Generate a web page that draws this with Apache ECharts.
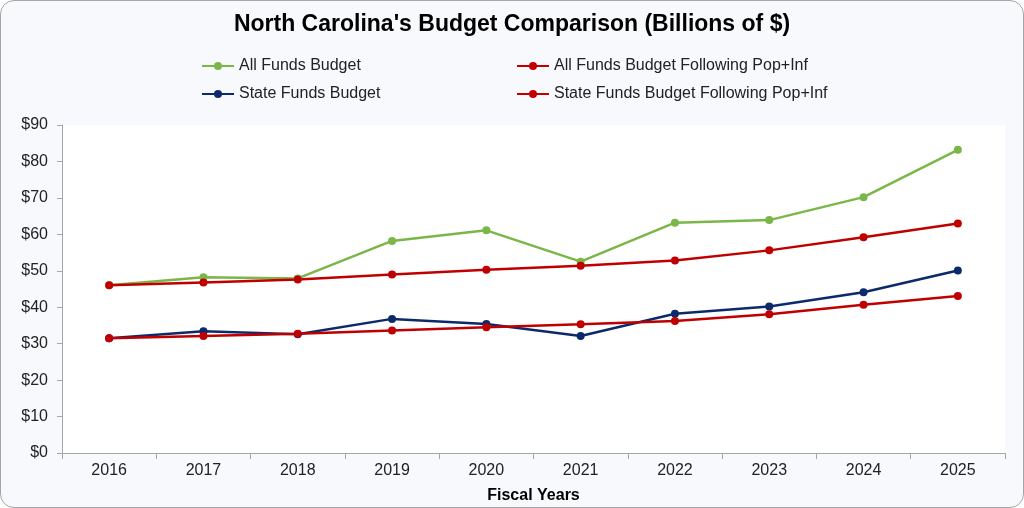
<!DOCTYPE html>
<html>
<head>
<meta charset="utf-8">
<script src="https://cdn.jsdelivr.net/npm/echarts@6/dist/echarts.min.js"></script>
<style>
    html, body { margin: 0; padding: 0; background: #fff; }
    #chart {
        width: 1022px; height: 506px;
        border: 1px solid #a6a6a6; border-radius: 14px;
        background: #f8f9fd; overflow: hidden;
    }
</style>
</head>
<body>
<div id="chart"></div>
<script>
var years = ['2016', '2017', '2018', '2019', '2020', '2021', '2022', '2023', '2024', '2025'];
var allFunds = [46.0, 48.2, 47.9, 58.2, 61.1, 52.5, 63.2, 63.9, 70.2, 83.2];
var allFundsPopInf = [46.0, 46.8, 47.6, 49.0, 50.3, 51.4, 52.8, 55.6, 59.2, 63.0];
var stateFunds = [31.5, 33.4, 32.6, 36.8, 35.4, 32.1, 38.2, 40.2, 44.1, 50.1];
var stateFundsPopInf = [31.5, 32.1, 32.7, 33.6, 34.5, 35.3, 36.2, 38.1, 40.7, 43.1];

var myChart = echarts.init(document.getElementById('chart'));

function lineSeries(name, data, color) {
    return {
        name: name,
        type: 'line',
        data: data,
        symbol: 'circle',
        symbolSize: 8,
        color: color,
        lineStyle: { width: 2.5, color: color },
        itemStyle: { color: color },
        animation: false
    };
}

var option = {
    backgroundColor: 'transparent',
    textStyle: { fontFamily: 'Liberation Sans' },
    title: {
        text: "North Carolina's Budget Comparison (Billions of $)",
        left: 'center',
        top: 7,
        textStyle: { fontSize: 23, fontWeight: 'bold', color: '#000', fontFamily: 'Liberation Sans' }
    },
    legend: [{
        data: ['All Funds Budget', 'State Funds Budget'],
        orient: 'vertical',
        left: 195,
        top: 52,
        itemGap: 12,
        itemWidth: 32,
        itemHeight: 10,
        textStyle: { fontSize: 16, color: '#222' }
    }, {
        data: ['All Funds Budget Following Pop+Inf', 'State Funds Budget Following Pop+Inf'],
        orient: 'vertical',
        left: 510,
        top: 52,
        itemGap: 12,
        itemWidth: 32,
        itemHeight: 10,
        textStyle: { fontSize: 16, color: '#222' }
    }],
    grid: {
        left: 61, right: 18, top: 124, bottom: 54,
        outerBoundsMode: 'none',
        containLabel: false,
        show: true, backgroundColor: '#ffffff', borderWidth: 0
    },
    xAxis: {
        type: 'category',
        data: years,
        boundaryGap: true,
        name: 'Fiscal Years',
        nameLocation: 'middle',
        nameGap: 35,
        nameTextStyle: { fontSize: 16, fontWeight: 'bold', color: '#000' },
        axisLine: { lineStyle: { color: '#a6a6a6' } },
        axisTick: { show: true, length: 6, lineStyle: { color: '#a6a6a6' } },
        axisLabel: { fontSize: 16, color: '#222', margin: 10 }
    },
    yAxis: {
        type: 'value',
        min: 0,
        max: 90,
        interval: 10,
        axisLine: { show: true, lineStyle: { color: '#a6a6a6' } },
        axisTick: { show: true, length: 5, lineStyle: { color: '#a6a6a6' } },
        splitLine: { show: false },
        axisLabel: { fontSize: 16, color: '#222', margin: 14, formatter: '${value}' }
    },
    series: [
        lineSeries('All Funds Budget', allFunds, '#7ab648'),
        lineSeries('All Funds Budget Following Pop+Inf', allFundsPopInf, '#c00000'),
        lineSeries('State Funds Budget', stateFunds, '#0c2a6b'),
        lineSeries('State Funds Budget Following Pop+Inf', stateFundsPopInf, '#c00000')
    ]
};
myChart.setOption(option);
</script>
</body>
</html>
